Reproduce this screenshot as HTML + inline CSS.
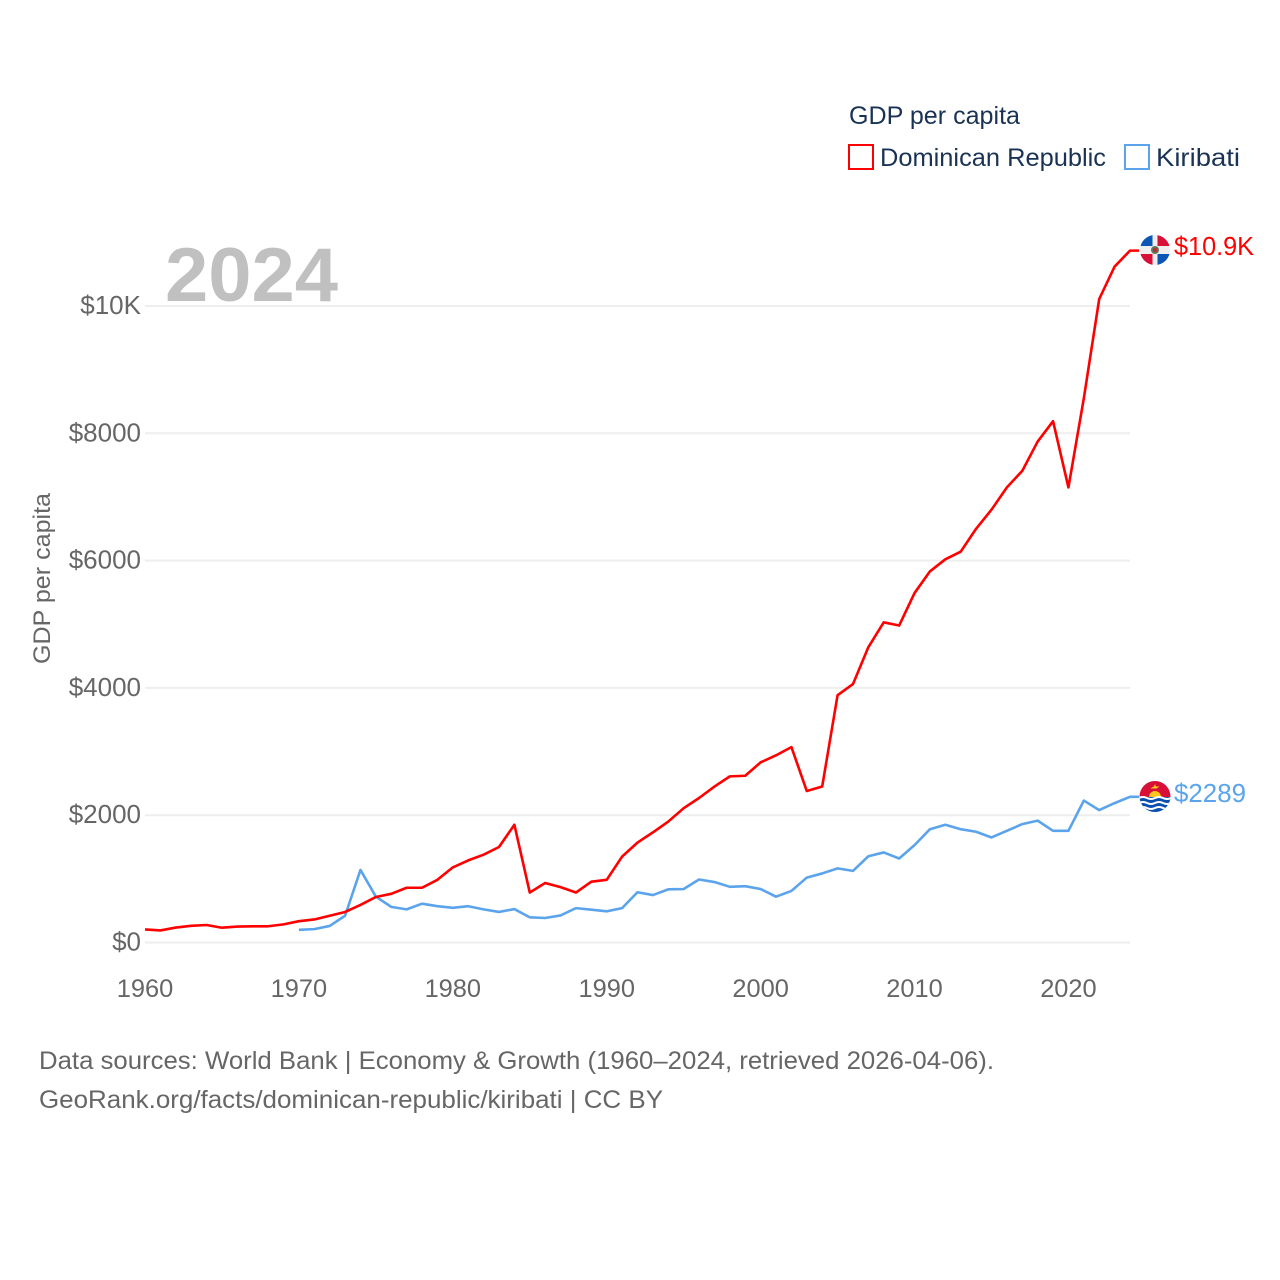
<!DOCTYPE html>
<html lang="en">
<head>
<meta charset="utf-8">
<title>GDP per capita: Dominican Republic and Kiribati</title>
<style>
html,body{margin:0;padding:0;background:#fff;width:1280px;height:1280px;overflow:hidden}
svg{display:block}
text{font-family:"Liberation Sans",sans-serif}
</style>
</head>
<body>
<svg id="chart" xmlns="http://www.w3.org/2000/svg" width="1280" height="1280" viewBox="0 0 1280 1280">
  <rect width="1280" height="1280" fill="#ffffff"/>
  <g id="grid"></g>
  <g id="yticks"></g>
  <g id="xticks"></g>
  <text x="165" y="301" font-size="76" font-weight="700" fill="#c0c0c0" textLength="173" lengthAdjust="spacingAndGlyphs">2024</text>
  <text transform="translate(50,664) rotate(-90)" font-size="24" fill="#666666" textLength="171" lengthAdjust="spacingAndGlyphs">GDP per capita</text>
  <g id="series"></g>

  <g>
    <text x="849" y="124" font-size="25" fill="#1a3355" textLength="171" lengthAdjust="spacingAndGlyphs">GDP per capita</text>
    <g>
      <rect x="849" y="145" width="24" height="24" fill="#fff" stroke="#ff0000" stroke-width="2"/>
      <text x="880" y="166" font-size="25" fill="#1a3355" textLength="226" lengthAdjust="spacingAndGlyphs">Dominican Republic</text>
    </g>
    <g>
      <rect x="1125" y="145" width="24" height="24" fill="#fff" stroke="#5ba4ec" stroke-width="2"/>
      <text x="1156" y="166" font-size="25" fill="#1a3355" textLength="84" lengthAdjust="spacingAndGlyphs">Kiribati</text>
    </g>
  </g>

  <defs>
    <clipPath id="flag-clip-do"><circle cx="1155" cy="250" r="15"/></clipPath>
    <clipPath id="flag-clip-ki"><circle cx="1155" cy="796.5" r="15.5"/></clipPath>
  </defs>
  <g clip-path="url(#flag-clip-do)">
    <rect x="1140" y="235" width="30" height="30" fill="#eeeeee"/>
    <rect x="1140" y="235" width="12.5" height="11" fill="#0a55b5"/>
    <rect x="1157.5" y="235" width="12.5" height="11" fill="#d80f36"/>
    <rect x="1140" y="254" width="12.5" height="11" fill="#d80f36"/>
    <rect x="1157.5" y="254" width="12.5" height="11" fill="#0a55b5"/>
    <circle cx="1155" cy="250" r="4" fill="#5c7a5a"/>
    <rect x="1153.2" y="248.2" width="3.6" height="3.6" fill="#c0243c"/>
  </g>
  <g clip-path="url(#flag-clip-ki)">
    <rect x="1139" y="781" width="32" height="16" fill="#d80f36"/>
    <rect x="1139" y="797" width="32" height="16" fill="#0a4fb0"/>
    <polygon points="1155,784 1156,786.5 1159.5,786.5 1156.5,788.5 1150.5,788.5 1153.5,786.5 1154,786.5" fill="#ffc61e"/>
    <path d="M1149 797 a6 6 0 0 1 12 0 z" fill="#ffc61e"/>
    <path d="M1139 798 q4 -2 8 0 t8 0 t8 0 t8 0" fill="none" stroke="#ffffff" stroke-width="2"/>
    <path d="M1139 803 q4 -2 8 0 t8 0 t8 0 t8 0" fill="none" stroke="#ffffff" stroke-width="2"/>
    <path d="M1139 808 q4 -2 8 0 t8 0 t8 0 t8 0" fill="none" stroke="#ffffff" stroke-width="2"/>
  </g>
  <text x="1174" y="255" font-size="25.5" fill="#ff0000" textLength="80" lengthAdjust="spacingAndGlyphs">$10.9K</text>
  <text x="1174" y="802" font-size="25.5" fill="#5ba4ec" textLength="72" lengthAdjust="spacingAndGlyphs">$2289</text>

  <text x="39" y="1069" font-size="25" fill="#666666" textLength="955" lengthAdjust="spacingAndGlyphs">Data sources: World Bank | Economy &amp; Growth (1960–2024, retrieved 2026-04-06).</text>
  <text x="39" y="1108" font-size="25" fill="#666666" textLength="624" lengthAdjust="spacingAndGlyphs">GeoRank.org/facts/dominican-republic/kiribati | CC BY</text>
</svg>
<script>
var startYear = 1960;
var endYear = 2024;
var kiribatiStartYear = 1970;
var yTickValues = [0, 2000, 4000, 6000, 8000, 10000];
var yTickLabels = ['$0', '$2000', '$4000', '$6000', '$8000', '$10K'];
var xTickValues = [1960, 1970, 1980, 1990, 2000, 2010, 2020];
var xTickLabels = ['1960', '1970', '1980', '1990', '2000', '2010', '2020'];
var dominicanValues = [205, 190, 235, 262, 275, 232, 250, 255, 255, 285,
  335, 362, 420, 480, 590, 715, 765, 860, 860, 985,
  1180, 1290, 1380, 1500, 1850, 785, 935, 870, 785, 955,
  985, 1350, 1570, 1730, 1900, 2110, 2270, 2450, 2610, 2620,
  2830, 2940, 3070, 2380, 2450, 3885, 4060, 4640, 5030, 4980,
  5490, 5830, 6020, 6140, 6500, 6800, 7150, 7410, 7870, 8190,
  7150, 8550, 10110, 10620, 10870];
var kiribatiValues = [200, 210, 260, 420, 1140, 720, 560, 520, 610, 570,
  545, 570, 520, 480, 525, 395, 385, 425, 540, 515,
  490, 540, 790, 745, 835, 840, 990, 950, 875, 885,
  840, 720, 810, 1020, 1085, 1165, 1125, 1355, 1415, 1320,
  1530, 1780, 1850, 1780, 1740, 1650, 1755, 1860, 1915, 1755,
  1755, 2230, 2080, 2190, 2289];

var NS = 'http://www.w3.org/2000/svg';
var plotLeft = 145, plotRight = 1130, plotBottom = 942.5, plotTop = 306;
var yMaxTick = 10000;

function xScale(year) {
  return plotLeft + (year - startYear) / (endYear - startYear) * (plotRight - plotLeft);
}
function yScale(value) {
  return plotBottom - value / yMaxTick * (plotBottom - plotTop);
}
function make(tag, attrs, parent) {
  var el = document.createElementNS(NS, tag);
  for (var k in attrs) { el.setAttribute(k, attrs[k]); }
  parent.appendChild(el);
  return el;
}
var gridGroup = document.getElementById('grid');
var yGroup = document.getElementById('yticks');
var xGroup = document.getElementById('xticks');
var seriesGroup = document.getElementById('series');

yTickValues.forEach(function (v, i) {
  var line = make('line', {x1: plotLeft, x2: plotRight, y1: yScale(v), y2: yScale(v), stroke: '#eeeeee', 'stroke-width': 2}, gridGroup);
  
  
  var t = make('text', {x: 141, y: yScale(v) + 8, 'text-anchor': 'end', 'font-size': 26, fill: '#666666'}, yGroup);
  
  
  t.textContent = yTickLabels[i];
});
xTickValues.forEach(function (v, i) {
  var t = make('text', {x: xScale(v), y: 997, 'text-anchor': 'middle', 'font-size': 25.4, fill: '#666666'}, xGroup);
  
  
  t.textContent = xTickLabels[i];
});

function linePath(values, firstYear) {
  var pts = values.map(function (v, i) {
    return xScale(firstYear + i).toFixed(2) + ',' + yScale(v).toFixed(2);
  });
  var last = values[values.length - 1];
  pts.push((plotRight + 9) + ',' + yScale(last).toFixed(2));
  return pts.join(' ');
}
var kiribatiLine = make('polyline', {points: linePath(kiribatiValues, kiribatiStartYear), fill: 'none', stroke: '#5ba4ec', 'stroke-width': 2.6, 'stroke-linejoin': 'round'}, seriesGroup);


var dominicanLine = make('polyline', {points: linePath(dominicanValues, startYear), fill: 'none', stroke: '#ff0000', 'stroke-width': 2.6, 'stroke-linejoin': 'round'}, seriesGroup);


</script>
</body>
</html>
